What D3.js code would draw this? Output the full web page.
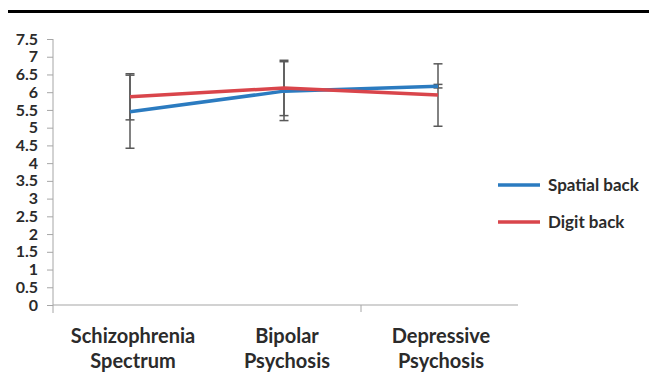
<!DOCTYPE html>
<html>
<head>
<meta charset="utf-8">
<script src="https://cdn.jsdelivr.net/npm/d3@7"></script>
<style>
  body { margin: 0; background: #fff; }
  text { font-family: Lato, "Open Sans", sans-serif; font-weight: bold; fill: #2b2b2b; }
</style>
</head>
<body>
<div id="chart"></div>
<script>
// data
var categories = [["Schizophrenia", "Spectrum"], ["Bipolar", "Psychosis"], ["Depressive", "Psychosis"]];
var seriesNames = ["Spatial back", "Digit back"];
var spatialMean = [5.45, 6.03, 6.17];
var spatialErr = [1.03, 0.83, 0.05];
var digitMean = [5.87, 6.12, 5.92];
var digitErr = [0.65, 0.78, 0.88];
var yTicks = [0, 0.5, 1, 1.5, 2, 2.5, 3, 3.5, 4, 4.5, 5, 5.5, 6, 6.5, 7, 7.5];
var colors = ["#2b7bc0", "#d9454b"];

var width = 649, height = 374;

var svg = d3.select("#chart").append("svg")
    .attr("width", width)
    .attr("height", height);

// black rule at the top
svg.append("line")
    .attr("x1", 8).attr("x2", width)
    .attr("y1", 11.5).attr("y2", 11.5)
    .attr("stroke", "#000")
    .attr("stroke-width", 3);

var keys = categories.map(c => c.join(" "));

var x = d3.scaleBand()
    .domain(keys)
    .range([53, 515])
    .padding(0);

var y = d3.scaleLinear()
    .domain([0, 7.5])
    .range([305, 39]);

// y axis
var yAxis = svg.append("g")
    .attr("transform", "translate(53,0)")
    .call(d3.axisLeft(y).tickValues(yTicks).tickSize(6).tickPadding(9)
        .tickFormat(d3.format("")));
yAxis.select(".domain").remove();
yAxis.selectAll(".tick line").attr("stroke", "#a6a6a6");
yAxis.selectAll(".tick text")
    .style("font-size", "16px")
    .attr("fill", "#2b2b2b");
svg.append("line")
    .attr("x1", 53).attr("x2", 53)
    .attr("y1", y(7.5)).attr("y2", 313)
    .attr("stroke", "#a6a6a6");

// x axis line and category ticks
svg.append("line")
    .attr("x1", 53).attr("x2", 518)
    .attr("y1", y(0)).attr("y2", y(0))
    .attr("stroke", "#a6a6a6")
    .attr("stroke-width", 1.2);
svg.selectAll(".xtick")
    .data([keys[2]])
    .enter().append("line")
    .attr("class", "xtick")
    .attr("x1", d => x(d)).attr("x2", d => x(d))
    .attr("y1", y(0)).attr("y2", y(0) + 7)
    .attr("stroke", "#a6a6a6");

// category labels
var catLabels = svg.selectAll(".cat")
    .data(categories)
    .enter().append("text")
    .attr("class", "cat")
    .attr("text-anchor", "middle")
    .style("font-size", "20px");
catLabels.each(function(d, i) {
    var t = d3.select(this);
    d.forEach(function(line, j) {
        t.append("tspan")
            .attr("x", x(keys[i]) + x.bandwidth() / 2 + 3)
            .attr("y", 343 + j * 25)
            .text(line);
    });
});

var series = [
    { name: seriesNames[0], mean: spatialMean, err: spatialErr, color: colors[0] },
    { name: seriesNames[1], mean: digitMean, err: digitErr, color: colors[1] }
];

var cx = i => x(keys[i]) + x.bandwidth() / 2;

// error bars
series.forEach(function(s) {
    var g = svg.append("g");
    s.mean.forEach(function(m, i) {
        var lo = m - s.err[i], hi = m + s.err[i];
        g.append("line")
            .attr("x1", cx(i)).attr("x2", cx(i))
            .attr("y1", y(lo)).attr("y2", y(hi))
            .attr("stroke", "#595959").attr("stroke-width", 1.5);
        [lo, hi].forEach(function(v) {
            g.append("line")
                .attr("x1", cx(i) - 4.5).attr("x2", cx(i) + 4.5)
                .attr("y1", y(v)).attr("y2", y(v))
                .attr("stroke", "#595959").attr("stroke-width", 1.5);
        });
    });
});

// lines
var line = d3.line()
    .x((d, i) => cx(i))
    .y(d => y(d));

series.forEach(function(s) {
    svg.append("path")
        .datum(s.mean)
        .attr("d", line)
        .attr("fill", "none")
        .attr("stroke", s.color)
        .attr("stroke-width", 3.5)
        .attr("stroke-linecap", "butt");
});

// legend
var legend = svg.selectAll(".legend")
    .data(series)
    .enter().append("g")
    .attr("class", "legend")
    .attr("transform", (d, i) => `translate(498, ${185 + i * 37})`);
legend.append("line")
    .attr("x1", 0).attr("x2", 42)
    .attr("stroke", d => d.color)
    .attr("stroke-width", 3.5);
legend.append("text")
    .attr("x", 50)
    .attr("dy", "0.35em")
    .style("font-size", "17px")
    .text(d => d.name);
</script>
</body>
</html>
